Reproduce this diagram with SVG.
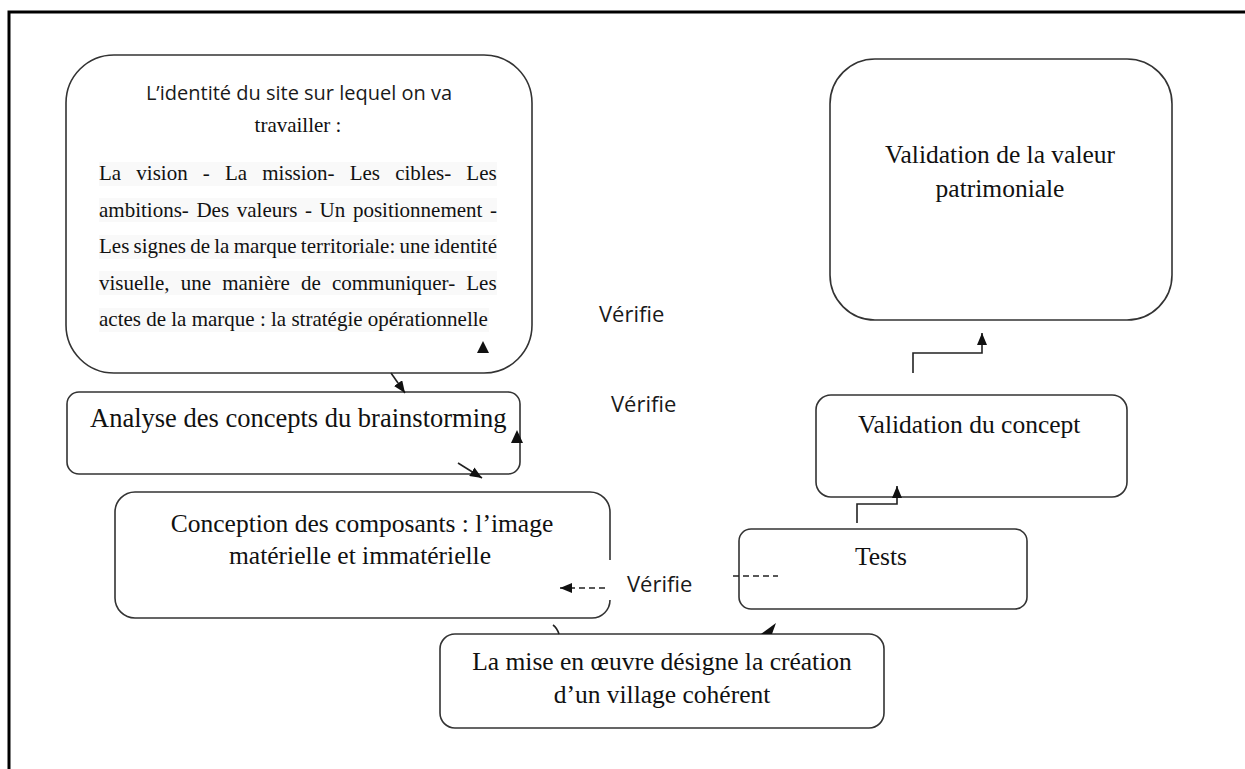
<svg xmlns="http://www.w3.org/2000/svg" width="1245" height="769" viewBox="0 0 1245 769">
<defs>
<style>
.box{fill:#fff;stroke:#333;stroke-width:1.6}
.conn{fill:none;stroke:#222;stroke-width:1.6}
.dash{fill:none;stroke:#222;stroke-width:1.6;stroke-dasharray:6 4}
.serif{font-family:"Liberation Serif","Times New Roman",serif;fill:#111}
.sans{font-family:"Open Sans","Noto Sans",sans-serif;fill:#1a1a1a}
.big{font-size:25.5px}
.just{font-size:21px}
.hl{fill:#f9f9f9}
</style>
<marker id="ah" viewBox="0 0 12 10" refX="12" refY="5" markerWidth="12" markerHeight="10" markerUnits="userSpaceOnUse" orient="auto">
<path d="M0,0 L12,5 L0,10 z" fill="#111"/>
</marker>
</defs>
<rect width="1245" height="769" fill="#fff"/>
<rect x="9" y="12" width="1260" height="780" fill="none" stroke="#000" stroke-width="3"/>

<g id="node-identite">
<rect class="box" x="66" y="55" width="466" height="318" rx="48"/>
<text class="sans" x="299" y="100" font-size="20" text-anchor="middle">L’identité du site sur lequel on va</text>
<text class="serif just" x="298" y="132" text-anchor="middle">travailler :</text>
<rect class="hl" x="99" y="162" width="398" height="24"/>
<rect class="hl" x="99" y="198" width="398" height="24"/>
<rect class="hl" x="99" y="235" width="398" height="24"/>
<rect class="hl" x="99" y="271" width="398" height="24"/>
<rect class="hl" x="99" y="308" width="390" height="24"/>
<text class="serif just" x="99" y="180" word-spacing="9.9">La vision - La mission- Les cibles- Les</text>
<text class="serif just" x="99" y="216.5" word-spacing="2.37">ambitions- Des valeurs - Un positionnement -</text>
<text class="serif just" x="99" y="253" word-spacing="-1.04">Les signes de la marque territoriale: une identité</text>
<text class="serif just" x="99" y="289.5" word-spacing="5.9">visuelle, une manière de communiquer- Les</text>
<text class="serif just" x="99" y="326">actes de la marque : la stratégie opérationnelle</text>
<polygon points="483,341 477,353 489,353" fill="#111"/>
</g>

<g id="node-analyse">
<rect class="box" x="67" y="392" width="453" height="82" rx="12"/>
<text class="serif" x="90" y="427" font-size="26.5">Analyse des concepts du brainstorming</text>
</g>

<g id="node-conception">
<path class="box" d="M610,600 A18,18 0 0 1 592,618 H135 A20,20 0 0 1 115,598 V512 A20,20 0 0 1 135,492 H590 A20,20 0 0 1 610,512 V560"/>
<text class="serif big" x="362" y="532" text-anchor="middle">Conception des composants : l’image</text>
<text class="serif big" x="360" y="564" text-anchor="middle">matérielle et immatérielle</text>
</g>

<g id="node-tests">
<rect class="box" x="739" y="529" width="288" height="80" rx="12"/>
<text class="serif big" x="855" y="565">Tests</text>
</g>

<g id="node-validation-concept">
<rect class="box" x="816" y="395" width="311" height="102" rx="15"/>
<text class="serif big" x="858" y="433">Validation du concept</text>
</g>

<g id="node-validation-valeur">
<rect class="box" x="830" y="59" width="342" height="261" rx="45"/>
<text class="serif big" x="1000" y="163" text-anchor="middle">Validation de la valeur</text>
<text class="serif big" x="1000" y="197" text-anchor="middle">patrimoniale</text>
</g>

<g id="node-mise-en-oeuvre">
<rect class="box" x="440" y="634" width="444" height="94" rx="15"/>
<text class="serif big" x="662" y="670" text-anchor="middle">La mise en œuvre désigne la création</text>
<text class="serif big" x="662" y="703" text-anchor="middle">d’un village cohérent</text>
</g>

<g id="connectors">
<line class="conn" x1="391" y1="373" x2="405" y2="393" marker-end="url(#ah)"/>
<polygon points="517,430 511,443 523,443" fill="#111"/>
<line class="conn" x1="458" y1="463" x2="482" y2="478" marker-end="url(#ah)"/>
<line class="dash" x1="605" y1="588" x2="560" y2="588" marker-end="url(#ah)"/>
<line class="dash" x1="733" y1="576" x2="778" y2="576"/>
<path class="conn" d="M553,625 Q557,628 559,634"/>
<polygon points="776,623 761,634 772,634" fill="#111"/>
<path class="conn" d="M857,523 V504 H897 V486" marker-end="url(#ah)"/>
<path class="conn" d="M913,373 V353 H982 V333" marker-end="url(#ah)"/>
<text class="sans" x="599" y="322" font-size="22">Vérifie</text>
<text class="sans" x="611" y="412" font-size="22">Vérifie</text>
<text class="sans" x="627" y="592" font-size="22">Vérifie</text>
</g>
</svg>
